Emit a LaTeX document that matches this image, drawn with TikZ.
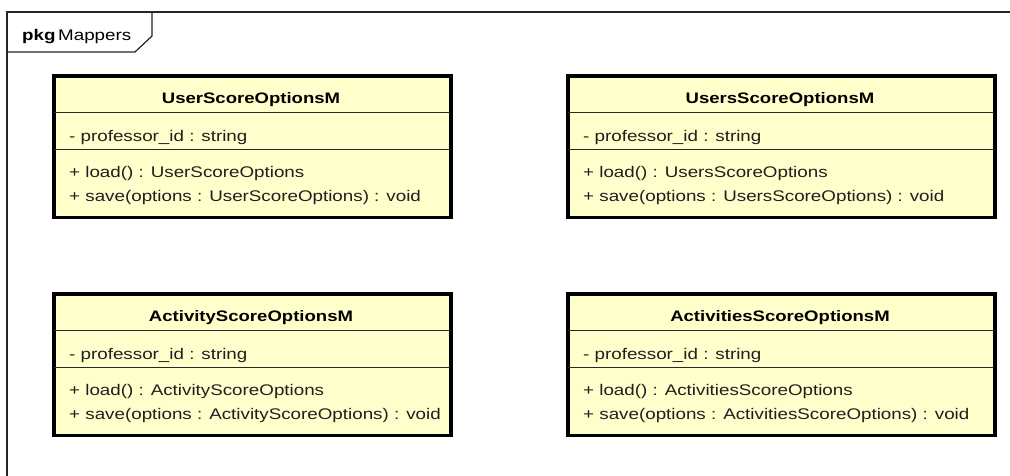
\documentclass[tikz,border=0pt]{standalone}
\usepackage{fontspec}
\setmainfont[FakeStretch=1.22]{Liberation Sans}
\definecolor{classfill}{RGB}{255,255,204}
\definecolor{sepgray}{RGB}{40,40,40}
\tikzset{
  membertext/.style={inner sep=0pt, font=\fontsize{15.4}{18}\selectfont, text=black!88},
  titletext/.style={inner sep=0pt, font=\fontsize{15.2}{18}\selectfont\bfseries},
  classframe/.style={draw=black, line width=2.6pt, fill=classfill},
  sepline/.style={draw=sepgray, line width=1.3pt},
  pkgframe/.style={draw=black!85, line width=1.2pt},
}
% #1 id, #2 left, #3 top, #4 right, #5 class name, #6 options type
\newcommand{\umlclass}[6]{%
  \node[classframe, minimum width={(#4-#2)*1pt}, minimum height=140.5pt, inner sep=0pt, anchor=north west] (#1) at (#2,#3) {};
  \draw[sepline] (#1.west |- 0,#3+37.5) -- (#1.east |- 0,#3+37.5);
  \draw[sepline] (#1.west |- 0,#3+74.5) -- (#1.east |- 0,#3+74.5);
  \draw[draw=black, line width=2.6pt] (#1.north west) rectangle (#1.south east);
  \node[titletext, anchor=base] (#1-name) at ({(#2+#4)/2},#3+28.5) {#5};
  \node[membertext, anchor=base west] (#1-attr) at (#2+16,#3+66) {- professor\_id : string};
  \node[membertext, anchor=base west] (#1-load) at (#2+16,#3+102) {+ load() : #6};
  \node[membertext, anchor=base west] (#1-save) at (#2+16,#3+126) {+ save(options : #6) : void};
}
\begin{document}
\begin{tikzpicture}[x=1pt, y=-1pt]
  \useasboundingbox (0,0) rectangle (1010,475);
  \fill[white] (0,0) rectangle (1010,475);
  % package frame
  \draw[pkgframe] (1020,12) -- (7,12) -- (7,485);
  \draw[pkgframe] (152,12) -- (152,36) -- (135,52) -- (7,52);
  \node[inner sep=0pt, anchor=base west, font=\fontsize{15.4}{18}\selectfont] (pkg) at (22,40) {\textbf{pkg}\,Mappers};
  % classes
  \umlclass{usm}{53}{75}{449}{UserScoreOptionsM}{UserScoreOptions}
  \umlclass{ussm}{567}{75}{993}{UsersScoreOptionsM}{UsersScoreOptions}
  \umlclass{asm}{53}{293}{449}{ActivityScoreOptionsM}{ActivityScoreOptions}
  \umlclass{assm}{567}{293}{993}{ActivitiesScoreOptionsM}{ActivitiesScoreOptions}
\end{tikzpicture}
\end{document}
